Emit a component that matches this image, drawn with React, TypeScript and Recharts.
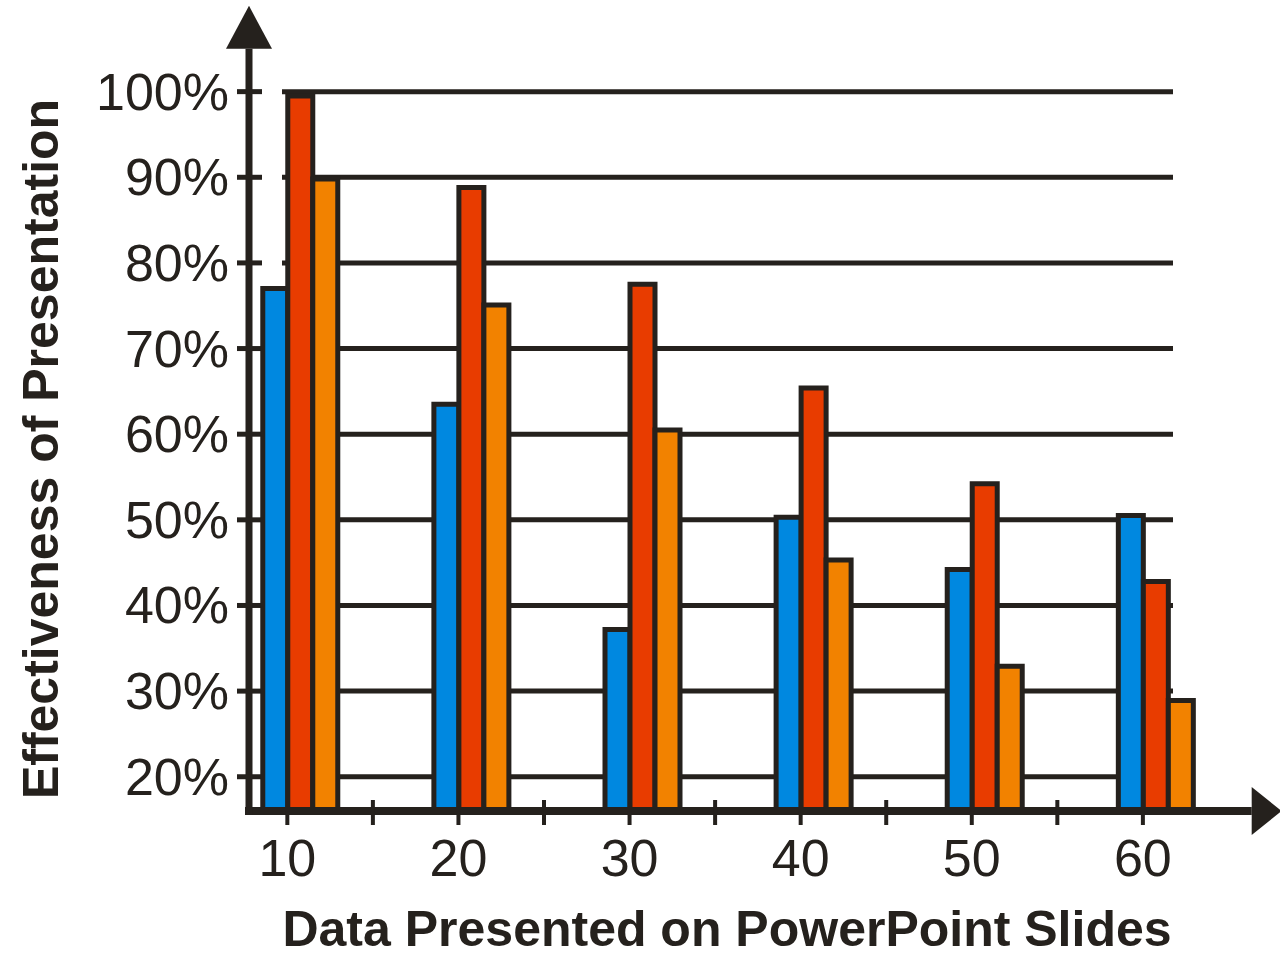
import {
  BarChart,
  Bar,
  XAxis,
  YAxis,
  CartesianGrid,
  ReferenceLine,
} from "recharts";

// slides shown (x) and effectiveness in % for the three bar series
const slides = [10, 20, 30, 40, 50, 60];
const blueSeries = [77, 63.5, 37.2, 50.3, 44.2, 50.5];
const redSeries = [99.5, 88.8, 77.5, 65.4, 54.2, 42.8];
const orangeSeries = [89.8, 75.1, 60.5, 45.3, 32.9, 28.9];
const yTicks = [20, 30, 40, 50, 60, 70, 80, 90, 100];
const xTicks = [10, 15, 20, 25, 30, 35, 40, 45, 50, 55, 60];

const data = slides.map((s, i) => ({
  slides: s,
  blue: blueSeries[i],
  red: redSeries[i],
  orange: orangeSeries[i],
}));

const INK = "#25211d";
const FONT = "'Liberation Sans', Arial, sans-serif";
// labels sit under the blue/red edge, not the group centre
const LABEL_SHIFT = -13;

function XTick({ x, y, payload }: any) {
  const v = payload.value;
  const cx = x + LABEL_SHIFT;
  if (v % 10 !== 0) {
    return <line x1={cx} x2={cx} y1={y - 11} y2={y + 14} stroke={INK} strokeWidth={4} />;
  }
  return (
    <g>
      <line x1={cx} x2={cx} y1={y} y2={y + 14} stroke={INK} strokeWidth={4} />
      <text x={cx} y={y + 65} textAnchor="middle" fontSize={52} fill={INK} fontFamily={FONT}>
        {v}
      </text>
    </g>
  );
}

function YTick({ x, y, payload }: any) {
  return (
    <g>
      <line x1={x - 12} x2={x + 13} y1={y} y2={y} stroke={INK} strokeWidth={5} />
      <text x={x - 20} y={y + 18} textAnchor="end" fontSize={52} fill={INK} fontFamily={FONT}>
        {payload.value}%
      </text>
    </g>
  );
}

function GridLine(props: any) {
  const { x1, x2, y1, y, height } = props;
  // skip the plot's top / bottom edges, only draw at the percentage ticks
  if (typeof y === "number" && (Math.abs(y1 - y) < 1 || Math.abs(y1 - (y + height)) < 1)) {
    return <g />;
  }
  return <line x1={x1 + 33} x2={x2} y1={y1} y2={y1} stroke={INK} strokeWidth={5} />;
}

function ArrowX(props: any) {
  const { x1, x2, y1 } = props;
  const a = Math.min(x1, x2);
  const b = Math.max(x1, x2);
  return (
    <g>
      <line x1={a - 4} x2={b} y1={y1} y2={y1} stroke={INK} strokeWidth={8} />
      <polygon points={`${b},${y1 - 24} ${b + 30},${y1} ${b},${y1 + 24}`} fill={INK} />
    </g>
  );
}

function ArrowY(props: any) {
  const { x1, y1, y2 } = props;
  const top = Math.min(y1, y2);
  const bottom = Math.max(y1, y2);
  return (
    <g>
      <line x1={x1} x2={x1} y1={bottom + 4} y2={top} stroke={INK} strokeWidth={7} />
      <polygon points={`${x1 - 23},${top} ${x1},${top - 43} ${x1 + 23},${top}`} fill={INK} />
    </g>
  );
}

function YTitle({ viewBox }: any) {
  const cx = viewBox.x + 58;
  const cy = viewBox.y + 443;
  return (
    <text
      x={cx}
      y={cy}
      transform={`rotate(-90, ${cx}, ${cy})`}
      textAnchor="middle"
      fontSize={50}
      fontWeight="bold"
      fill={INK}
      fontFamily={FONT}
    >
      Effectiveness of Presentation
    </text>
  );
}

function XTitle({ viewBox }: any) {
  return (
    <text
      x={viewBox.x + 478}
      y={viewBox.y + 135}
      textAnchor="middle"
      fontSize={50}
      fontWeight="bold"
      fill={INK}
      fontFamily={FONT}
    >
      Data Presented on PowerPoint Slides
    </text>
  );
}

export default function App() {
  return (
    <div style={{ position: "absolute", left: 0, top: 0, background: "#fff" }}>
      <BarChart
        width={1280}
        height={957}
        data={data}
        margin={{ top: 6, right: 107, bottom: 0, left: 0 }}
        barGap={0}
        barSize={25}
      >
        <CartesianGrid vertical={false} horizontal={GridLine} syncWithTicks />
        <XAxis
          type="number"
          dataKey="slides"
          domain={[7, 61]}
          ticks={xTicks}
          interval={0}
          height={146}
          axisLine={false}
          tickLine={false}
          tickSize={0}
          tickMargin={0}
          tick={XTick}
          label={<XTitle />}
        />
        <YAxis
          type="number"
          domain={[16, 110]}
          ticks={yTicks}
          interval={0}
          width={249}
          axisLine={false}
          tickLine={false}
          tickSize={0}
          tickMargin={0}
          tick={YTick}
          label={<YTitle />}
        />
        <Bar dataKey="blue" fill="#0088e0" stroke={INK} strokeWidth={5} isAnimationActive={false} />
        <Bar dataKey="red" fill="#e83c00" stroke={INK} strokeWidth={5} isAnimationActive={false} />
        <Bar dataKey="orange" fill="#f28200" stroke={INK} strokeWidth={5} isAnimationActive={false} />
        <ReferenceLine
          segment={[
            { x: 7, y: 16 },
            { x: 65.6, y: 16 },
          ]}
          ifOverflow="visible"
          shape={ArrowX}
        />
        <ReferenceLine
          segment={[
            { x: 7, y: 16 },
            { x: 7, y: 105 },
          ]}
          ifOverflow="visible"
          shape={ArrowY}
        />
      </BarChart>
    </div>
  );
}
